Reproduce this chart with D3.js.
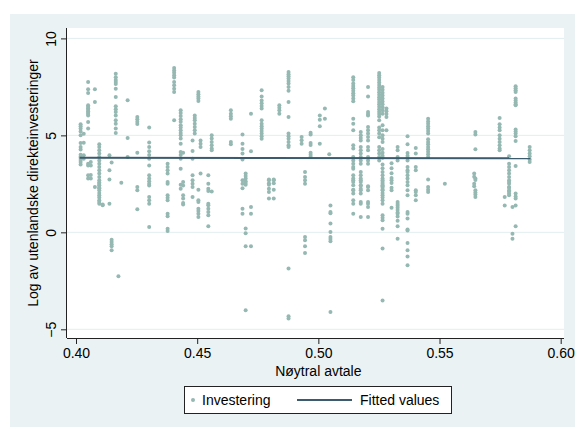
<!DOCTYPE html>
<html>
<head>
<meta charset="utf-8">
<script src="https://cdn.jsdelivr.net/npm/d3@7"></script>
<style>
  html, body { margin: 0; padding: 0; background: #fff; }
  svg text { font-family: "Liberation Sans", Arial, sans-serif; fill: #000; }
</style>
</head>
<body>
<svg id="chart" width="575" height="427"></svg>
<script>
// x value of each column of observations (Nøytral avtale)
const colX = [
  0.4019, 0.4032, 0.4050, 0.4061, 0.4078, 0.4096, 0.4110, 0.4138, 0.4147, 0.4164,
  0.4175, 0.4187, 0.4213, 0.4253, 0.4302, 0.4378, 0.4405, 0.4432, 0.4442, 0.4481,
  0.4490, 0.4505, 0.4514, 0.4546, 0.4560, 0.4639, 0.4687, 0.4700, 0.4722, 0.4766,
  0.4796, 0.4816, 0.4839, 0.4877, 0.4931, 0.4945, 0.4968, 0.5006, 0.5027, 0.5045,
  0.5050, 0.5144, 0.5175, 0.5205, 0.5251, 0.5265, 0.5281, 0.5302, 0.5327, 0.5368,
  0.5402, 0.5453, 0.5522, 0.5643, 0.5648, 0.5748, 0.5769, 0.5787, 0.5801, 0.5814,
  0.5872
];
// log of FDI for each column (Investering)
const colY = [
  [5.57, 5.47, 5.35, 5.2, 5.0, 4.6, 4.4, 4.27, 4.0, 3.9, 3.83, 3.73, 3.63, 3.5],
  [5.08, 4.62, 3.97, 3.8],
  [7.75, 7.38, 7.19, 6.55, 6.48, 6.4, 6.32, 6.25, 6.17, 6.1, 6.03, 5.69, 5.35, 3.54, 3.45, 2.94, 2.77],
  [3.63, 3.45, 2.95, 2.77],
  [7.38, 6.72, 2.34],
  [4.54, 4.4, 4.23, 4.06, 3.88, 3.71, 3.54, 3.37, 3.2, 3.03, 2.85, 2.56, 2.44, 2.27, 2.68, 2.54, 2.42, 2.3, 2.17, 2.03, 1.91, 1.79, 1.65, 1.56, 1.48],
  [1.44, 1.4],
  [3.97, 3.2, 2.72, 1.48],
  [3.6, -0.38, -0.5, -0.62, -0.72, -0.93],
  [8.18, 8.0, 7.85, 7.75, 7.65, 7.41, 6.98, 6.5, 6.35, 6.2, 6.03, 5.78, 5.6, 5.35, 5.12],
  [-2.27],
  [2.56],
  [6.81, 4.86, 3.88],
  [5.95, 5.83, 5.7, 5.58, 4.11, 2.34, 2.17, 1.19],
  [5.4, 4.63, 4.4, 4.18, 3.99, 3.8, 3.45, 2.94, 2.77, 2.63, 2.51, 2.42, 1.82, 1.65, 1.48, 0.27],
  [3.54, 3.37, 3.2, 3.03, 2.6, 2.5, 1.91, 1.78, 1.65, 0.96, 0.83, 0.19, 0.07],
  [8.47, 8.35, 8.23, 8.1, 7.98, 7.75, 7.58, 7.41, 7.24, 5.78],
  [6.29, 6.15, 6.0, 5.83, 5.7, 5.52, 5.4, 5.26, 5.12, 5.0, 4.84, 4.57, 4.14, 3.99, 3.8, 3.28, 2.46, 2.25],
  [4.11, 2.6, 2.42, 1.91, 1.74, 1.51, 1.44],
  [4.74, 4.19, 3.8, 2.94, 2.51, 2.68, 2.34, 1.82],
  [6.03, 5.9, 5.78, 5.6, 5.43, 5.26, 5.1],
  [7.24, 7.12, 7.0, 6.9, 6.77, 2.2, 1.65, 1.56, 1.22, 1.1, 0.96, 0.79],
  [4.74, 4.57, 4.4, 3.04],
  [2.94, 2.51, 2.25, 2.13, 1.48, 1.4, 1.22, 1.05, 0.88, 0.31],
  [5.0, 4.84, 4.66, 4.49, 4.32, 4.23, 2.11],
  [6.29, 6.12, 5.98, 5.86, 4.66, 4.54],
  [5.05, 4.57, 4.3, 4.06, 3.75, 2.68, 2.5, 2.27, 1.22, 0.96],
  [3.04, 2.9, 2.77, 2.63, 2.55, 2.45, 0.2, -0.05, -0.72, -4.02],
  [6.12, 4.18, 1.31, 0.96, -0.72],
  [7.32, 7.0, 6.8, 6.65, 6.52, 6.38, 5.78, 5.6, 5.47, 5.35, 5.22, 5.09, 4.95, 4.83],
  [2.72, 2.53, 2.68, 2.45, 2.25, 2.08, 1.74],
  [2.72, 2.53, 2.68, 2.2, 1.74],
  [6.55, 6.43, 6.29, 6.12],
  [8.27, 8.15, 8.05, 7.93, 7.8, 7.67, 7.5, 7.3, 6.72, 5.95, 5.09, 4.95, 4.83, 4.66, 4.49, 4.4, -1.87, -4.33, -4.44],
  [4.92, 4.75, 4.57],
  [3.11, 2.85, 2.68, 2.51, -0.24, -0.41, -0.72, -1.07],
  [5.14, 5.05, 4.6, 4.5, 4.1, 4.0, 3.9],
  [6.03, 5.81, 5.47, 4.57],
  [6.38, 5.86],
  [4.02],
  [1.39, 1.05, 0.98, 0.45, 0.02, -0.24, -0.35, -0.46, -4.11],
  [8.0, 7.85, 7.68, 7.55, 7.43, 7.3, 7.17, 7.05, 6.9, 6.76, 5.86, 5.6, 5.26, 4.49, 4.32, 3.88, 3.7, 3.54, 3.37, 3.28, 2.94, 2.77, 2.6, 2.43, 2.17, 2.68, 2.2, 2.0, 1.65, 1.48, 0.96],
  [5.17, 5.0, 4.87, 4.74, 4.4, 4.23, 4.06, 3.88, 3.71, 3.54, 3.11, 2.94, 2.77, 2.6, 2.43, 2.25, 2.68, 2.4, 2.17, 2.0, 1.56, 1.48, 0.79],
  [7.5, 7.01, 6.2, 6.1, 6.03, 5.43, 5.26, 5.09, 4.92, 4.74, 4.4, 4.23, 3.88, 3.71, 3.54, 2.37, 2.34, 2.17, 1.56, 1.48, 1.31, 0.79],
  [8.22, 8.1, 7.98, 7.85, 7.73, 7.6, 7.47, 7.35, 7.22, 7.1, 6.97, 6.85, 6.72, 6.6, 6.47, 6.35, 6.22, 6.1, 5.97, 5.78, 5.4, 5.26, 5.1, 4.9, 4.4, 4.23, 4.06, 3.88, 3.71],
  [7.5, 7.35, 7.2, 7.05, 6.9, 6.75, 6.6, 6.45, 6.3, 6.12, 5.52, 5.26, 5.0, 4.83, 4.66, 4.3, 4.1, 3.95, 3.85, 3.5, 3.3, 3.11, 2.94, 2.77, 2.6, 2.43, 2.3, 2.17, 2.68, 2.5, 2.37, 2.2, 2.03, 1.91, 1.79, 1.65, 1.48, 0.88, 0.75, 0.62, 0.19, -0.84, -3.51],
  [6.39, 6.25, 6.1, 5.95, 5.26],
  [3.56, 3.3, 3.05, 2.8, 2.55, 2.3, 2.68, 2.17, 1.27],
  [4.4, 4.23, 3.88, 3.71, 1.56, 1.46, 1.37, 1.27, 1.15, 1.02, 0.96, 0.82, 0.6, 0.31, -0.33],
  [4.95, 4.54, 4.09, 3.95, 3.85, 3.71, 3.37, 3.2, 3.11, 2.94, 2.77, 2.6, 2.43, 2.17, 1.91, 1.05, 0.96, 0.71, 0.14, 0.1, -0.55, -0.93, -1.24, -1.7],
  [4.35, 4.06, 3.37, 3.2, 2.17, 2.08, 1.91, 1.65],
  [5.86, 5.72, 5.6, 5.47, 5.35, 5.22, 5.1, 4.8, 4.66, 4.54, 4.4, 4.28, 4.15, 4.02, 3.88, 2.72, 2.34, 2.2, 2.08],
  [2.51],
  [3.03, 2.86, 2.51, 2.37],
  [5.17, 5.04, 4.28, 2.78, 2.7, 2.17, 2.05, 1.95, 1.82],
  [5.9, 5.57, 5.4, 5.26, 5.0, 4.83, 4.66, 4.49, 4.32, 4.23],
  [1.82, 1.39],
  [3.92, 3.54, 3.37, 3.2, 3.03, 2.85, 2.68, 2.51, 2.34, 2.17, 2.6, 2.3, 2.1, 2.0, 1.91],
  [1.31, -0.07, -0.33],
  [7.53, 7.43, 7.33, 7.24, 6.9, 6.8, 6.7, 6.6, 6.55, 5.3, 5.2, 5.1, 4.95, 4.71, 3.42, 2.0, 1.85, 1.74, 1.39, 0.31],
  [4.4, 4.23, 4.06, 3.92, 3.75, 3.63]
];
// fitted values line (end points)
const fitX = [0.4015, 0.5875];
const fitY = [3.84, 3.82];

const xTicks = [0.40, 0.45, 0.50, 0.55, 0.60];
const yTicks = [-5, 0, 5, 10];
const legendLabels = ["Investering", "Fitted values"];

const points = [];
colX.forEach((x, i) => colY[i].forEach(y => points.push({x: x, y: y})));

const svg = d3.select("#chart");
const W = 575, H = 427;
const plot = {left: 67, right: 564, top: 28, bottom: 338};

const x = d3.scaleLinear().domain([0.40, 0.60]).range([76, 560.7]);
const y = d3.scaleLinear().domain([-5, 10]).range([329.3, 38.4]);

// graph region background
svg.append("rect").attr("x", 10).attr("y", 14).attr("width", W - 10).attr("height", H - 14)
  .attr("fill", "#eaf2f3");
svg.append("rect").attr("x", plot.left).attr("y", plot.top)
  .attr("width", plot.right - plot.left).attr("height", plot.bottom - plot.top)
  .attr("fill", "#fff");

// grid lines
svg.append("g").selectAll("line").data(yTicks).join("line")
  .attr("x1", plot.left).attr("x2", plot.right)
  .attr("y1", d => y(d)).attr("y2", d => y(d))
  .attr("stroke", "#e3eeef").attr("stroke-width", 1);

// points
svg.append("g").selectAll("circle").data(points).join("circle")
  .attr("cx", d => x(d.x)).attr("cy", d => y(d.y)).attr("r", 2)
  .attr("fill", "#96b8b2");

// fitted line
svg.append("path")
  .datum(fitX.map((v, i) => [v, fitY[i]]))
  .attr("d", d3.line().x(d => x(d[0])).y(d => y(d[1])))
  .attr("stroke", "#3b5b6f").attr("stroke-width", 2).attr("fill", "none");

// x axis
const xAxis = svg.append("g").attr("transform", `translate(0,${plot.bottom})`)
  .call(d3.axisBottom(x).tickValues(xTicks).tickFormat(d3.format(".2f")).tickSize(6).tickPadding(4));
xAxis.select(".domain").attr("d", `M${plot.left},0.5H${plot.right}`).attr("stroke", "#222");
xAxis.selectAll(".tick line").attr("stroke", "#222");
xAxis.selectAll("text").attr("font-size", 14).attr("font-family", "Liberation Sans, Arial, sans-serif");

// y axis
const yAxis = svg.append("g").attr("transform", `translate(${plot.left},0)`)
  .call(d3.axisLeft(y).tickValues(yTicks).tickSize(6).tickPadding(4));
yAxis.select(".domain").attr("d", `M-0.5,${plot.top}V${plot.bottom}`).attr("stroke", "#222");
yAxis.selectAll(".tick line").attr("stroke", "#222");
yAxis.selectAll("text")
  .attr("font-size", 14).attr("font-family", "Liberation Sans, Arial, sans-serif")
  .attr("x", null).attr("dy", null)
  .attr("text-anchor", "middle")
  .attr("transform", "translate(-11,0) rotate(-90)");

// axis titles
svg.append("text").attr("x", (76 + 560.7) / 2).attr("y", 376)
  .attr("text-anchor", "middle").attr("font-size", 14).text("Nøytral avtale");
svg.append("text")
  .attr("transform", `translate(38,${(plot.top + plot.bottom) / 2}) rotate(-90)`)
  .attr("text-anchor", "middle").attr("font-size", 14)
  .text("Log av utenlandske direkteinvesteringer");

// legend
const lg = svg.append("g");
lg.append("rect").attr("x", 184.5).attr("y", 386.5).attr("width", 267).attr("height", 27)
  .attr("fill", "#fff").attr("stroke", "#222").attr("stroke-width", 1);
lg.append("circle").attr("cx", 193).attr("cy", 400).attr("r", 2).attr("fill", "#96b8b2");
lg.append("text").attr("x", 202).attr("y", 405).attr("font-size", 14).text(legendLabels[0]);
lg.append("line").attr("x1", 297).attr("x2", 352).attr("y1", 400).attr("y2", 400)
  .attr("stroke", "#3b5b6f").attr("stroke-width", 2);
lg.append("text").attr("x", 360).attr("y", 405).attr("font-size", 14).text(legendLabels[1]);
</script>
</body>
</html>
